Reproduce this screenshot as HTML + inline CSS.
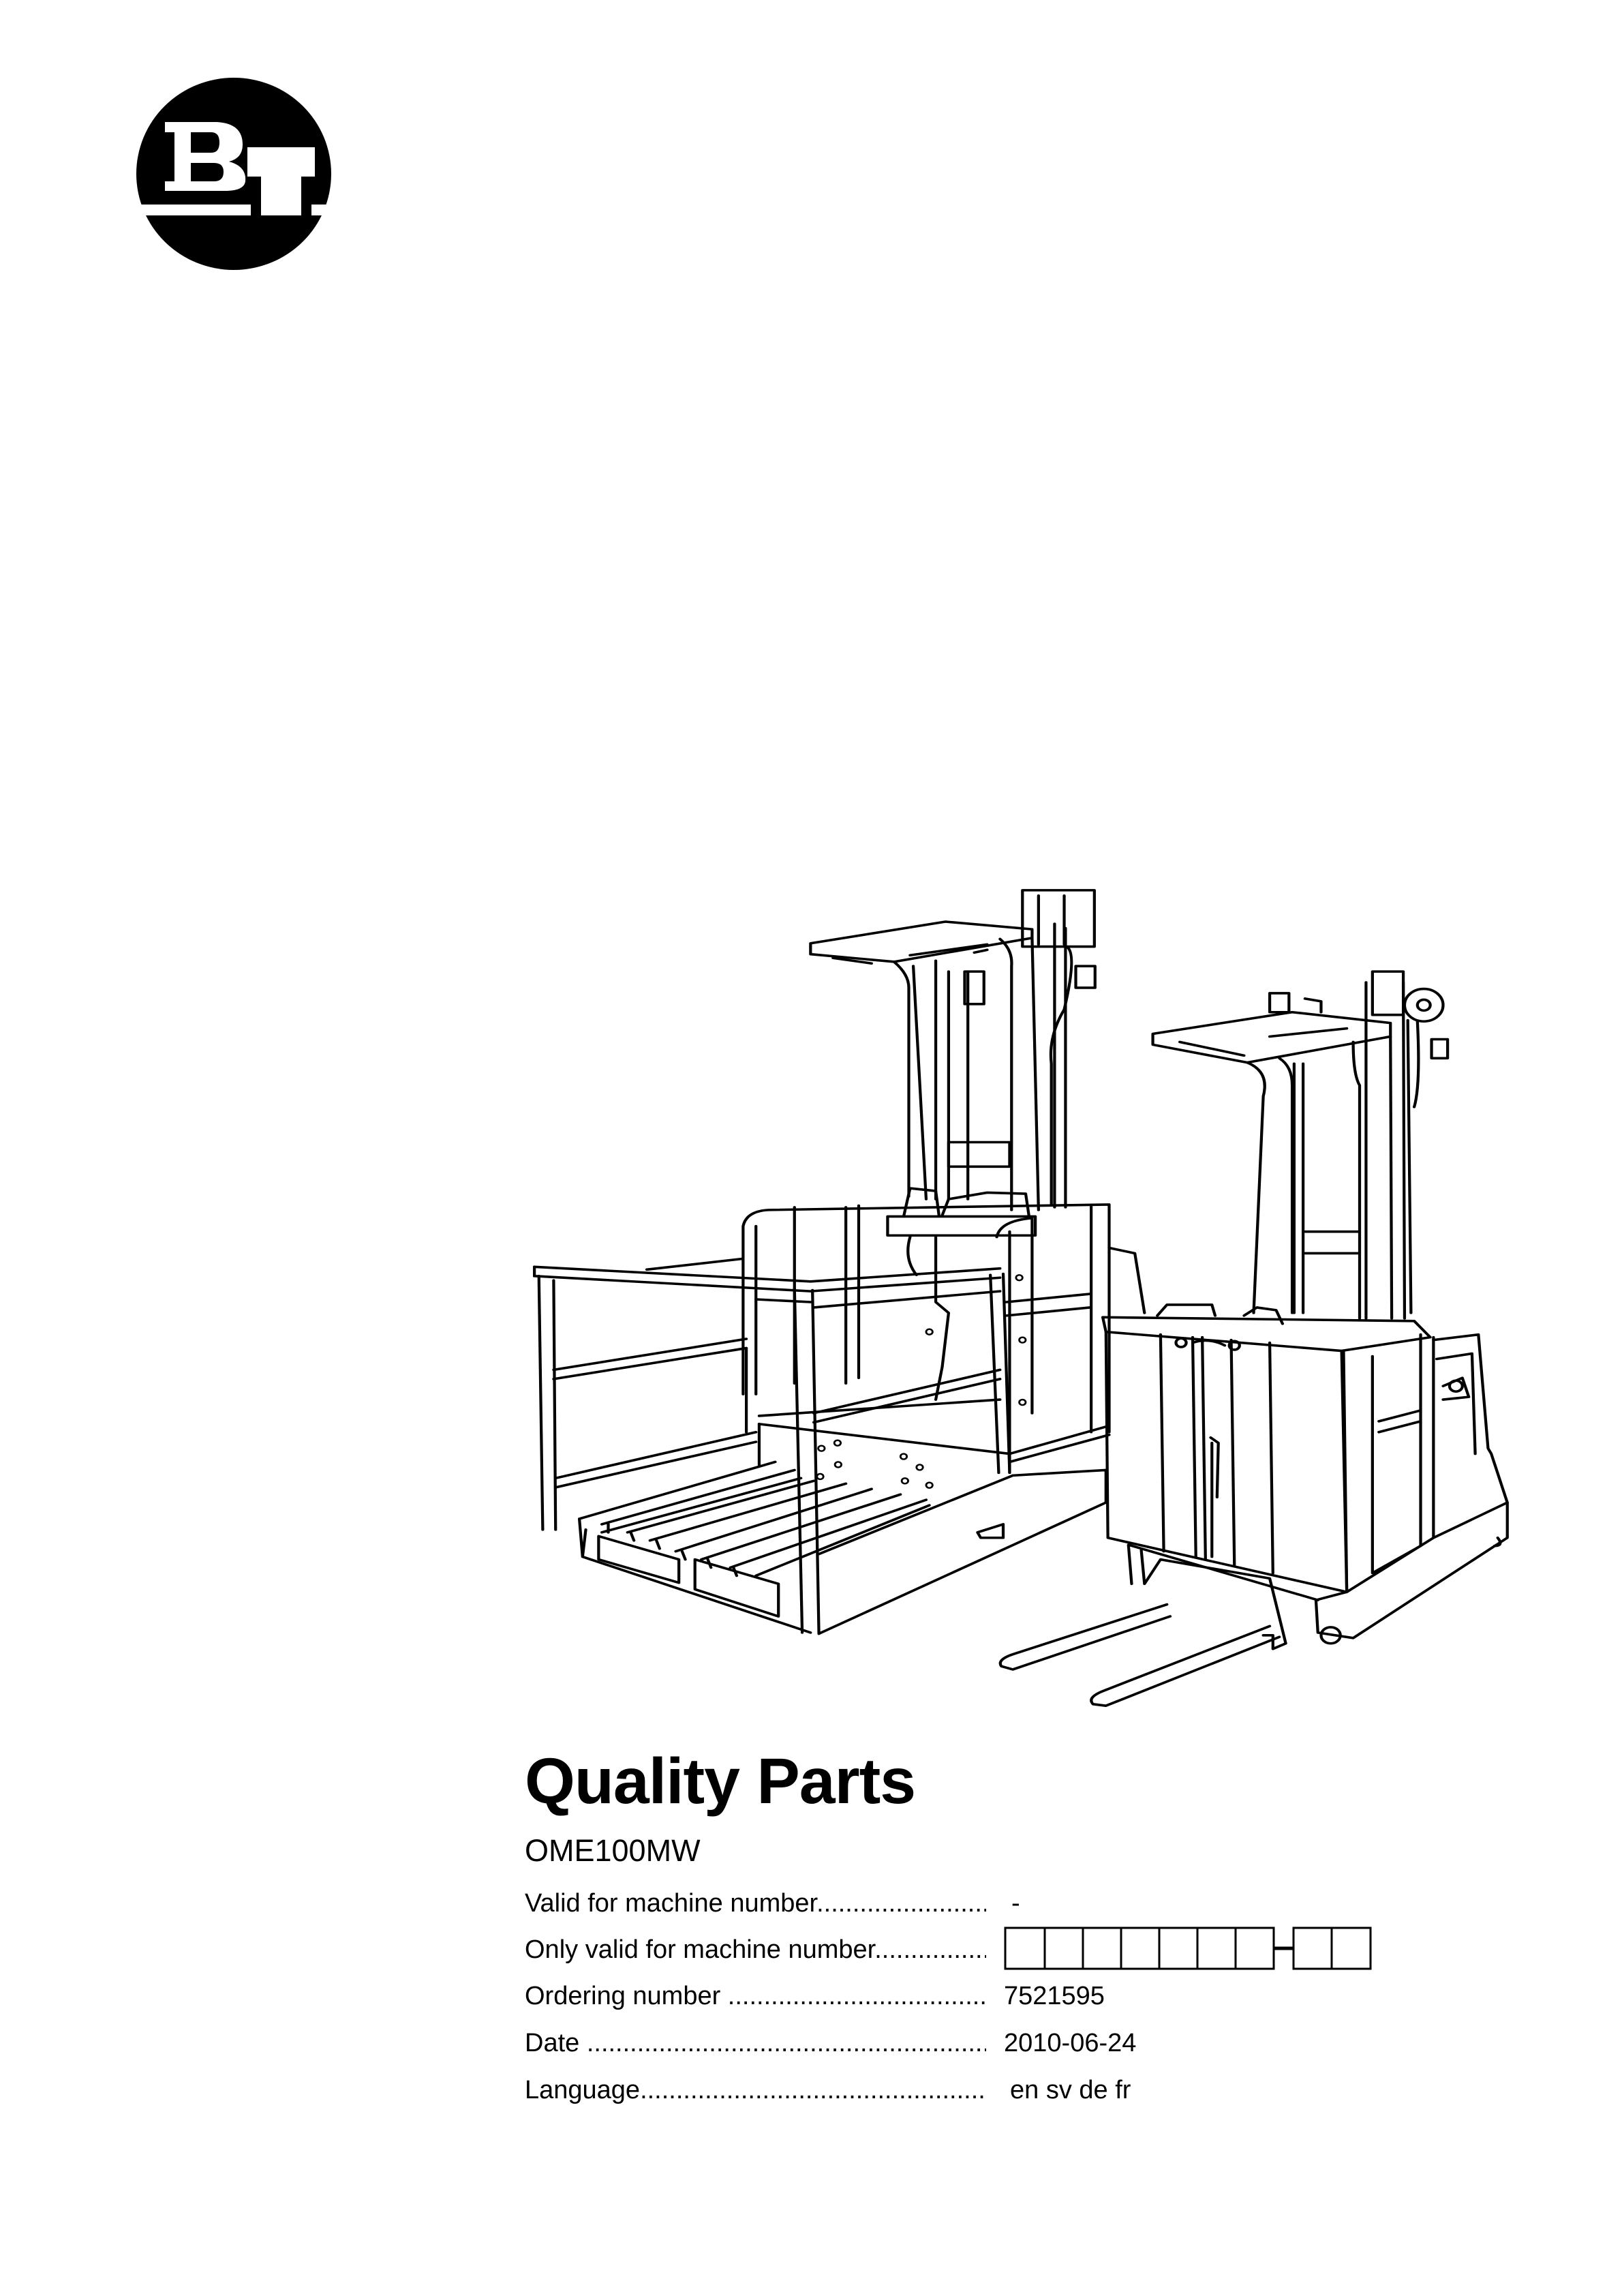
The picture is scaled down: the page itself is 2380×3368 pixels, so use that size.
<!DOCTYPE html>
<html><head><meta charset="utf-8"><style>
html,body{margin:0;padding:0;background:#fff;}
body{width:2380px;height:3368px;position:relative;overflow:hidden;font-family:"Liberation Sans",Arial,sans-serif;color:#000;}
.t{position:absolute;white-space:nowrap;line-height:1;}
.row{position:absolute;left:770px;width:677px;overflow:hidden;font-size:38px;line-height:1.1;white-space:nowrap;}
.v{position:absolute;font-size:38px;line-height:1.1;white-space:nowrap;}
</style></head><body>

<svg style="position:absolute;left:0;top:0" width="700" height="500" viewBox="0 0 700 500">
  <ellipse cx="343" cy="255" rx="143" ry="141" fill="#000"/>
  <rect x="190" y="300" width="178" height="16" fill="#fff"/>
  <rect x="457" y="300" width="40" height="16" fill="#fff"/>
  <path fill="#fff" d="M242,179 H318 Q356,181 356,212 Q356,232 336,237 Q362,244 360,266 Q358,280 330,280 H242 V266 H256 V194 H242 Z M280,194 V224 H310 Q322,224 322,209 Q322,194 310,194 Z M280,239 V266 H314 Q328,266 328,252 Q328,239 314,239 Z"/>
  <rect x="363" y="216" width="99" height="43" fill="#fff"/>
  <rect x="383" y="259" width="59" height="57" fill="#fff"/>
</svg>

<svg style="position:absolute;left:770px;top:1290px" width="1470" height="1240" viewBox="0 0 1560 1560" preserveAspectRatio="none" fill="none" stroke="#000" stroke-width="4.5" stroke-linejoin="round" stroke-linecap="round">
  <polygon points="445,118 655,78 790,92 790,108 575,152 445,138"/>
  <path d="M480,145 L540,155 M600,140 L720,120"/>
  <path d="M575,152 Q598,175 598,200 L598,585 M640,150 L640,590 M605,160 L625,590"/>
  <path d="M740,110 Q760,130 758,160 L758,610 M790,108 L800,610 M700,135 L720,130"/>
  <path d="M660,170 L660,590 M690,170 L690,590 M825,82 L825,605 M842,90 L842,605"/>
  <rect x="775" y="20" width="112" height="104"/>
  <path d="M800,30 L800,120 M840,30 L840,120"/>
  <path d="M845,125 Q860,140 840,240 Q815,290 820,340 L820,600"/>
  <rect x="858" y="160" width="30" height="40"/>
  <rect x="660" y="485" width="95" height="45"/>
  <rect x="685" y="170" width="30" height="60"/>
  <path d="M340,640 Q345,612 380,610 L910,600 L910,1020 M882,603 L882,1020 M340,640 L340,950 M360,640 L360,950"/>
  <path d="M420,605 L420,930 M520,602 L520,920 M500,605 L500,930"/>
  <path d="M735,660 Q740,630 790,625 L790,985 M755,650 L755,1095 M750,805 L880,790 M750,780 L880,765"/>
  <path d="M910,680 L950,690 L965,800"/>
  <rect x="565" y="622" width="230" height="35"/>
  <path d="M590,622 L600,570 L640,575 L645,620 M650,620 L660,590 L720,578 L780,580 L785,620"/>
  <path d="M640,660 L640,780 L660,800 L650,900 L640,960 M600,660 Q590,700 610,730"/>
  <path d="M15,715 L445,742 L740,718 M15,732 L445,760 L740,735"/>
  <path d="M15,715 L15,732"/>
  <path d="M22,732 L28,1200 M45,740 L48,1200"/>
  <path d="M420,755 L432,1390 M448,758 L458,1392"/>
  <path d="M725,730 L738,1095 M745,728 L755,1095"/>
  <path d="M45,905 L345,848 M45,922 L345,865"/>
  <path d="M48,1105 L360,1020 M48,1122 L360,1038"/>
  <path d="M450,985 L740,905 M450,1002 L740,922"/>
  <path d="M450,790 L740,760 M360,775 L445,780"/>
  <path d="M345,865 L345,1020 M190,720 L340,700"/>
  <path d="M365,990 L740,960 M365,1005 L755,1060 M755,1060 L905,1010 M755,1075 L910,1025"/>
  <path d="M365,1005 L365,1080"/>
  <path d="M85,1180 L390,1075 M85,1180 L90,1250 L445,1390 M90,1250 L95,1200"/>
  <path d="M120,1190 L420,1090 M120,1205 L430,1105"/>
  <path d="M160,1205 L450,1110 M195,1220 L500,1115 M235,1240 L540,1125 M275,1255 L585,1135 M320,1270 L625,1145 M360,1285 L630,1155"/>
  <path d="M130,1190 L130,1205 M165,1205 L170,1220 M205,1220 L210,1235 M245,1240 L250,1255 M285,1255 L290,1270 M325,1270 L330,1285"/>
  <polygon points="265,1255 395,1300 395,1360 265,1310"/>
  <polygon points="115,1212 240,1255 240,1298 115,1255"/>
  <path d="M458,1392 L905,1150 L905,1090 M458,1245 L760,1100 M760,1100 L905,1090"/>
  <path d="M705,1205 L745,1190 L745,1215 L710,1215 Z"/>
  <g stroke-width="3"><circle cx="487" cy="1040" r="5"/><circle cx="462" cy="1050" r="5"/><circle cx="488" cy="1080" r="5"/><circle cx="590" cy="1065" r="5"/><circle cx="615" cy="1085" r="5"/><circle cx="592" cy="1110" r="5"/><circle cx="630" cy="1118" r="5"/><circle cx="460" cy="1102" r="5"/><circle cx="630" cy="835" r="5"/><circle cx="770" cy="735" r="5"/><circle cx="775" cy="850" r="5"/><circle cx="775" cy="965" r="5"/></g>

  <polygon points="978,285 1195,245 1348,265 1348,290 1125,338 978,305"/>
  <path d="M1020,300 L1120,325 M1160,290 L1280,275"/>
  <path d="M1125,338 Q1160,355 1150,400 L1135,800 M1175,330 Q1195,345 1195,380 L1195,800"/>
  <path d="M1290,300 Q1290,360 1300,380 L1300,810 M1348,290 L1350,810"/>
  <path d="M1198,340 L1198,800 M1212,340 L1212,800 M1310,190 L1310,810 M1368,190 L1370,810"/>
  <rect x="1320" y="170" width="48" height="80"/>
  <circle cx="1400" cy="232" r="30"/><circle cx="1400" cy="232" r="10"/>
  <path d="M1375,260 L1380,800 M1390,262 Q1395,380 1385,420"/>
  <rect x="1412" y="295" width="25" height="35"/>
  <path d="M1160,210 L1190,210 L1190,245 L1160,245 Z M1215,220 L1240,225 L1240,245"/>
  <path d="M1215,650 L1298,650 M1215,690 L1298,690"/>
  <polygon points="900,808 1385,815 1410,845 1272,870 905,835"/>
  <path d="M905,835 L908,1215 L1280,1315 L1275,870"/>
  <path d="M1272,870 L1280,1315 L1415,1215 L1415,845"/>
  <path d="M990,840 L995,1240 M1040,845 L1045,1250 M1055,845 L1060,1255 M1100,850 L1105,1265 M1160,855 L1165,1280"/>
  <circle cx="1022" cy="855" r="8"/><circle cx="1105" cy="860" r="8"/>
  <path d="M1040,855 Q1065,845 1090,860"/>
  <path d="M985,805 L1000,785 L1070,785 L1075,805 M1120,805 L1140,790 L1170,795 L1180,820"/>
  <path d="M1320,880 L1320,1280 L1395,1230 L1395,840 M1330,1000 L1395,980 M1330,1020 L1395,1000"/>
  <path d="M1068,1030 L1080,1040 L1078,1140 M1070,1040 L1070,1250"/>
  <path d="M1415,850 L1485,840 L1500,1050 L1505,1060 L1530,1150 L1530,1215 L1290,1400 L1235,1390 L1232,1330 L1280,1315"/>
  <path d="M1420,885 L1475,875 L1480,1060 M1415,1215 L1530,1150"/>
  <path d="M1430,935 L1460,920 L1470,955 L1430,960"/>
  <circle cx="1450" cy="935" r="10"/>
  <circle cx="1255" cy="1395" r="15"/><path d="M1515,1215 Q1525,1230 1510,1230"/>
  <path d="M940,1228 L945,1300 M940,1228 L1235,1330"/>
  <path d="M960,1238 L965,1300 L990,1255 L1160,1290 L1185,1410 L1165,1420 L1165,1395 L1150,1395"/>
  <path d="M1000,1338 L760,1430 Q735,1440 742,1452 L760,1458 L1005,1360"/>
  <path d="M1160,1378 L900,1498 Q875,1510 885,1522 L905,1525 L1175,1398"/>
</svg>

<div class="t" style="left:770px;top:2566px;font-size:95px;font-weight:bold;letter-spacing:-1px;">Quality Parts</div>
<div class="t" style="left:770px;top:2692px;font-size:45px;">OME100MW</div>

<div class="row" style="top:2772px;">Valid for machine number.......................................</div>
<div class="v" style="left:1484px;top:2772px;">-</div>
<div class="row" style="top:2840px;">Only valid for machine number.......................................</div>
<div class="row" style="top:2908px;">Ordering number ...............................................................</div>
<div class="v" style="left:1473px;top:2908px;">7521595</div>
<div class="row" style="top:2977px;">Date ..........................................................................................</div>
<div class="v" style="left:1473px;top:2977px;">2010-06-24</div>
<div class="row" style="top:3046px;">Language..........................................................................</div>
<div class="v" style="left:1482px;top:3046px;">en sv de fr</div>

<svg style="position:absolute;left:1470px;top:2823px" width="550" height="72" viewBox="1470 2823 550 72" fill="none" stroke="#000" stroke-width="3">
  <rect x="1475" y="2828" width="394" height="60"/>
  <path d="M1533,2828 V2888 M1589,2828 V2888 M1645,2828 V2888 M1701,2828 V2888 M1757,2828 V2888 M1813,2828 V2888"/>
  <rect x="1898" y="2828" width="113" height="60"/>
  <path d="M1954,2828 V2888"/>
  <path d="M1869,2858 H1898" stroke-width="5"/>
</svg>

</body></html>
